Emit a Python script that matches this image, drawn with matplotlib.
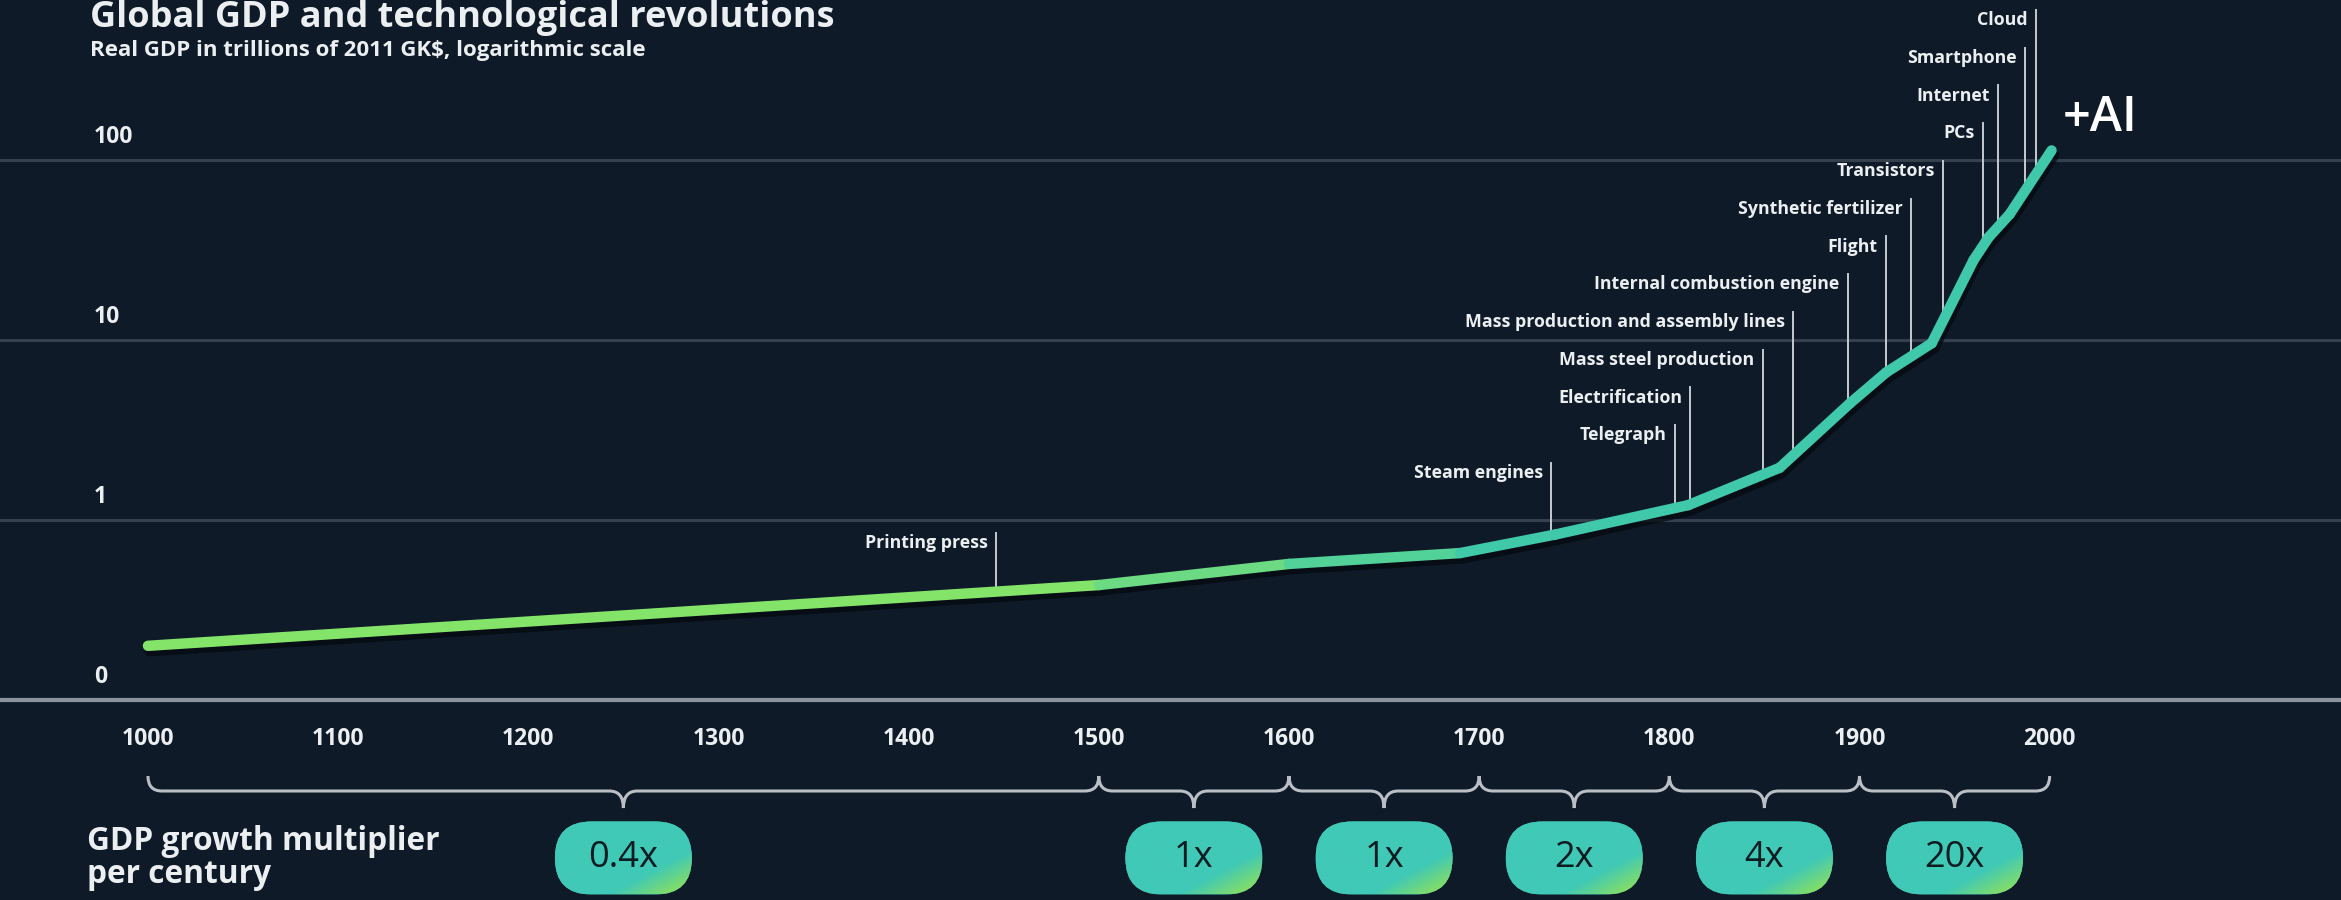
import numpy as np
import matplotlib
matplotlib.use('Agg')
import matplotlib.pyplot as plt
from matplotlib.collections import LineCollection
from matplotlib.patches import FancyBboxPatch, PathPatch
from matplotlib.path import Path
from matplotlib.colors import LinearSegmentedColormap
from matplotlib.transforms import offset_copy

plt.rcParams['font.family'] = ['Open Sans', 'DejaVu Sans']

# world GDP (trillions, 2011 GK$)
years = [1000, 1500, 1600, 1690, 1740, 1810, 1858, 1895, 1914, 1938, 1960, 1968, 1979, 2001]
gdp = [0.20, 0.435, 0.57, 0.655, 0.83, 1.21, 1.95, 4.45, 6.6, 9.6, 27.8, 37.3, 50, 113]

tech_names = ['Printing press', 'Steam engines', 'Telegraph', 'Electrification',
              'Mass steel production', 'Mass production and assembly lines',
              'Internal combustion engine', 'Flight', 'Synthetic fertilizer',
              'Transistors', 'PCs', 'Internet', 'Smartphone', 'Cloud']
tech_years = [1446, 1738, 1803, 1811, 1849, 1865, 1894, 1914, 1927, 1944, 1965, 1973, 1987, 1993]

period_start = [1000, 1500, 1600, 1700, 1800, 1900]
period_end = [1500, 1600, 1700, 1800, 1900, 2000]
multiplier = ['0.4x', '1x', '1x', '2x', '4x', '20x']

xtick_years = [1000, 1100, 1200, 1300, 1400, 1500, 1600, 1700, 1800, 1900, 2000]
ytick_vals = [0.1, 1, 10, 100]
ytick_labels = ['0', '1', '10', '100']

W, H = 2341, 900
bg = '#0e1a28'
fg = '#eceff1'

fig = plt.figure(figsize=(W / 100, H / 100), dpi=100, facecolor=bg)
ax = fig.add_axes([0, 200 / H, 1, 700 / H])
ax.set_yscale('log')
ax.set_xlim(922.2, 2153.2)
ax.set_ylim(0.1, 774)
ax.axis('off')

# grid
for v in ytick_vals[1:]:
    ax.axhline(v, color='#34404d', lw=2.2, zorder=1)
ax.axhline(0.1, color='#8b949c', lw=3, zorder=1, clip_on=False)

for v, lab in zip(ytick_vals, ytick_labels):
    ax.annotate(lab, xy=(0.04, v), xycoords=('axes fraction', 'data'), xytext=(0, 12),
                textcoords='offset points', ha='left', va='baseline', fontsize=16.5,
                color=fg, fontweight='bold')

for yr in xtick_years:
    ax.annotate(str(yr), xy=(yr, 0), xycoords=('data', 'axes fraction'), xytext=(0, -28),
                textcoords='offset points', ha='center', va='center', fontsize=16.5,
                color=fg, fontweight='bold')

# gdp curve, green -> teal
pts = np.column_stack([years, gdp])
segs = np.stack([pts[:-1], pts[1:]], axis=1)
mid = (np.array(years[:-1]) + np.array(years[1:])) / 2
t = np.clip((mid - 1450) / (1720 - 1450), 0, 1)
line_cmap = LinearSegmentedColormap.from_list('gdp', ['#84e46a', '#3fc9aa'])
shadow = offset_copy(ax.transData, fig=fig, x=2, y=-5, units='dots')
ax.plot(years, gdp, color='#03080e', lw=8, alpha=0.7, transform=shadow,
        solid_capstyle='round', solid_joinstyle='round', zorder=3)
lc = LineCollection(segs, colors=line_cmap(t), linewidths=7.5, capstyle='round',
                    joinstyle='round', zorder=4)
ax.add_collection(lc)

# technology markers
log_gdp = np.log10(gdp)
for i, (name, yr) in enumerate(zip(tech_names, tech_years)):
    if i == 0:
        top = 10 ** -0.072
    else:
        top = 10 ** (0.317 + 0.2097 * (i - 1))
    ax.plot([yr, yr], [10 ** np.interp(yr, years, log_gdp), top], color='#c5cad0',
            lw=1.4, zorder=2)
    ax.annotate(name, xy=(yr, top), xytext=(-6, -11), textcoords='offset points',
                ha='right', va='baseline', fontsize=12.8, color=fg, fontweight='bold')

ax.annotate('+AI', xy=(years[-1], gdp[-1]), xytext=(8, 14), textcoords='offset points',
            ha='left', va='baseline', fontsize=35, color='white', fontweight='semibold')

# titles
fig.text(90 / W, 1 - 27 / H, 'Global GDP and technological revolutions', fontsize=26,
         color=fg, fontweight='bold', va='baseline')
fig.text(90 / W, 1 - 56 / H, 'Real GDP in trillions of 2011 GK$, logarithmic scale',
         fontsize=16, color=fg, fontweight='bold', va='baseline')

# lower band: braces and multiplier pills, drawn in pixel space
ov = fig.add_axes([0, 0, 1, 1])
ov.axis('off')


def px(year):
    return ax.transData.transform((year, 1))[0]


yt, ym, yb = H - 776, H - 791, H - 808
w = 14
verts, codes = [], []
for a, b in zip(period_start, period_end):
    xa, xb = px(a), px(b)
    xm = (xa + xb) / 2
    verts += [(xa, yt), (xa, ym), (xa + w, ym), (xm - w, ym), (xm, ym), (xm, yb),
              (xm, ym), (xm + w, ym), (xb - w, ym), (xb, ym), (xb, yt)]
    codes += [Path.MOVETO, Path.CURVE3, Path.CURVE3, Path.LINETO, Path.CURVE3, Path.CURVE3,
              Path.CURVE3, Path.CURVE3, Path.LINETO, Path.CURVE3, Path.CURVE3]
ov.add_patch(PathPatch(Path(verts, codes), fc='none', ec='#b9bfc5', lw=2.2))

pill_cmap = LinearSegmentedColormap.from_list('pill', ['#40c9b6', '#8ee05a'])
pill_w, pill_h = 137, 73
pcy = H - 858
u, v = np.meshgrid(np.linspace(0, 1, 200), np.linspace(0, 1, 100))
grad = np.clip((u + v - 1.4) / 0.5, 0, 1)
for a, b, lab in zip(period_start, period_end, multiplier):
    xm = (px(a) + px(b)) / 2
    x0, y0 = xm - pill_w / 2, pcy - pill_h / 2
    pill = FancyBboxPatch((x0, y0), pill_w, pill_h, boxstyle='round,pad=0,rounding_size=36.5',
                          fc='#40c9b6', ec='none', zorder=1)
    ov.add_patch(pill)
    im = ov.imshow(grad, extent=(x0, x0 + pill_w, y0, y0 + pill_h), origin='upper',
                   cmap=pill_cmap, vmin=0, vmax=1, aspect='auto', zorder=2)
    im.set_clip_path(pill)
    ov.text(xm, pcy, lab, ha='center', va='center', fontsize=26, color='#0d1b22', zorder=3)

ov.text(87, pcy, 'GDP growth multiplier\nper century', ha='left', va='center', fontsize=22.8,
        color=fg, fontweight='bold', linespacing=1.0)

ov.set_xlim(0, W)
ov.set_ylim(0, H)

fig.savefig('out.png', dpi=100, facecolor=bg)
